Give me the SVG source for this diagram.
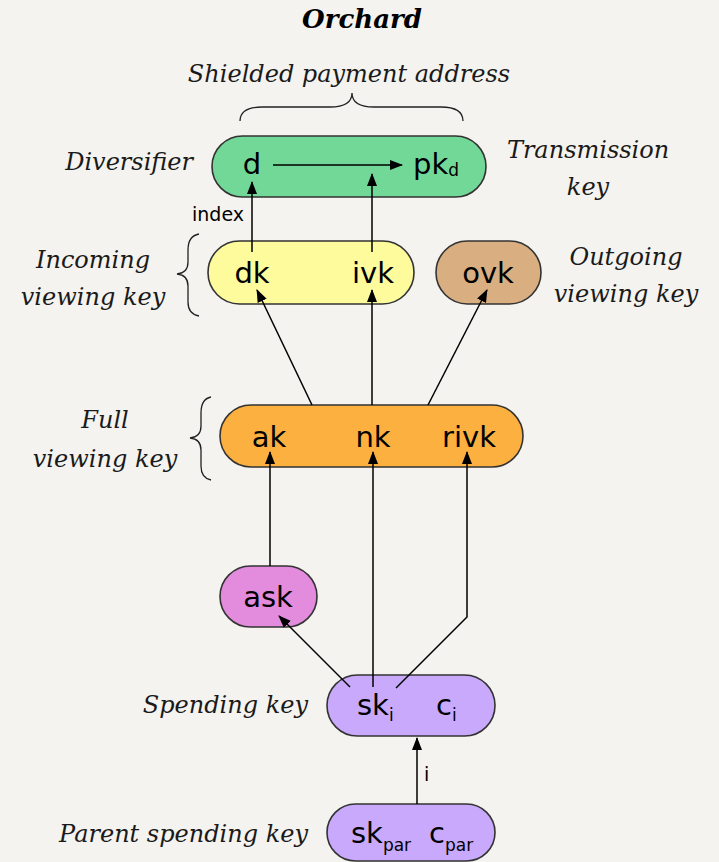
<svg xmlns="http://www.w3.org/2000/svg" width="719" height="862" viewBox="0 0 719 862">
<defs>
<marker id="ah" markerUnits="userSpaceOnUse" markerWidth="13" markerHeight="10" refX="12" refY="5" orient="auto">
<path d="M0,0 L13,5 L0,10 z" fill="#000"/>
</marker>
<style>
.lbl{font-family:"DejaVu Serif",serif;font-style:italic;font-size:24px;fill:#1a1a1a}
.nt{font-family:"DejaVu Sans",sans-serif;font-size:29px;fill:#000}
.sub{font-size:17px}
.node{stroke:#333;stroke-width:1.6}
.con{fill:none;stroke:#000;stroke-width:1.5}
.arr{fill:none;stroke:#000;stroke-width:1.5;marker-end:url(#ah)}
.br{fill:none;stroke:#222;stroke-width:1.3}
.sm{font-family:"DejaVu Sans",sans-serif;font-size:19px;fill:#000}
</style>
</defs>
<rect width="719" height="862" fill="#f4f3ef"/>
<text x="362" y="28" text-anchor="middle" style="font-family:'DejaVu Serif',serif;font-style:italic;font-weight:bold;font-size:26px;fill:#000">Orchard</text>
<text class="lbl" x="349" y="82" text-anchor="middle">Shielded payment address</text>
<path class="br" d="M240,121 Q240,107 262,107 L330,107 Q352,107 352,93 Q352,107 374,107 L441,107 Q463,107 463,121"/>
<text class="lbl" x="193" y="170" text-anchor="end">Diversifier</text>
<text class="lbl" x="588" y="158" text-anchor="middle">Transmission</text>
<text class="lbl" x="588" y="195" text-anchor="middle">key</text>
<text class="lbl" x="93" y="268" text-anchor="middle">Incoming</text>
<text class="lbl" x="93" y="305" text-anchor="middle">viewing key</text>
<path class="br" d="M199,234 Q188,236 188,250 L188,262 Q188,273 177,274 Q188,275 188,286 L188,302 Q188,314 199,316"/>
<text class="lbl" x="626" y="265" text-anchor="middle">Outgoing</text>
<text class="lbl" x="626" y="302" text-anchor="middle">viewing key</text>
<text class="lbl" x="105" y="428" text-anchor="middle">Full</text>
<text class="lbl" x="105" y="467" text-anchor="middle">viewing key</text>
<path class="br" d="M211,397 Q201,399 201,413 L201,426 Q201,437 190,438 Q201,439 201,450 L201,466 Q201,478 211,480"/>
<text class="lbl" x="308" y="713" text-anchor="end">Spending key</text>
<text class="lbl" x="308" y="842" text-anchor="end">Parent spending key</text>

<g id="addr">
<rect class="node" x="212" y="136" width="274" height="61" rx="30.5" fill="#72d898"/>
<text class="nt" x="252" y="174" text-anchor="middle">d</text>
<text class="nt" x="413" y="174">pk<tspan class="sub" dy="2">d</tspan></text>
</g>
<g id="ivkey">
<rect class="node" x="208" y="241" width="206" height="63" rx="31.5" fill="#fdfb9c"/>
<text class="nt" x="252" y="283" text-anchor="middle">dk</text>
<text class="nt" x="373" y="283" text-anchor="middle">ivk</text>
</g>
<g id="ovkey">
<rect class="node" x="436" y="241" width="105" height="63" rx="31.5" fill="#d9ae80"/>
<text class="nt" x="488" y="283" text-anchor="middle">ovk</text>
</g>
<g id="fvk">
<rect class="node" x="220" y="405" width="303" height="62" rx="31" fill="#fbb040"/>
<text class="nt" x="269" y="447" text-anchor="middle">ak</text>
<text class="nt" x="373" y="447" text-anchor="middle">nk</text>
<text class="nt" x="469" y="447" text-anchor="middle">rivk</text>
</g>
<g id="ask">
<rect class="node" x="220" y="566" width="97" height="61" rx="30.5" fill="#e38bdc"/>
<text class="nt" x="268" y="607" text-anchor="middle">ask</text>
</g>
<g id="sk">
<rect class="node" x="327" y="675" width="168" height="61" rx="30.5" fill="#c8a9fc"/>
<text class="nt" x="357" y="715">sk<tspan class="sub" dy="6">i</tspan></text>
<text class="nt" x="436" y="715">c<tspan class="sub" dy="6">i</tspan></text>
</g>
<g id="skpar">
<rect class="node" x="327" y="804" width="168" height="57" rx="28.5" fill="#c8a9fc"/>
<text class="nt" x="351" y="843">sk<tspan class="sub" dy="8">par</tspan></text>
<text class="nt" x="429" y="843">c<tspan class="sub" dy="8">par</tspan></text>
</g>

<g id="connectors">
<path class="arr" d="M273,165 L402,165"/>
<path class="arr" d="M252,252 L252,182"/>
<text class="sm" x="192" y="221">index</text>
<path class="arr" d="M372,252 L372,174"/>
<path class="arr" d="M312,405 L257,290"/>
<path class="arr" d="M372,405 L372,290"/>
<path class="arr" d="M428,405 L487,290"/>
<path class="arr" d="M270,566 L270,452"/>
<path class="arr" d="M373,687 L373,452"/>
<path class="arr" d="M396,688 L467,617 L467,452"/>
<path class="arr" d="M350,687 L279,616"/>
<path class="arr" d="M417,804 L417,738"/>
<text class="sm" x="424" y="781">i</text>
</g>
</svg>
